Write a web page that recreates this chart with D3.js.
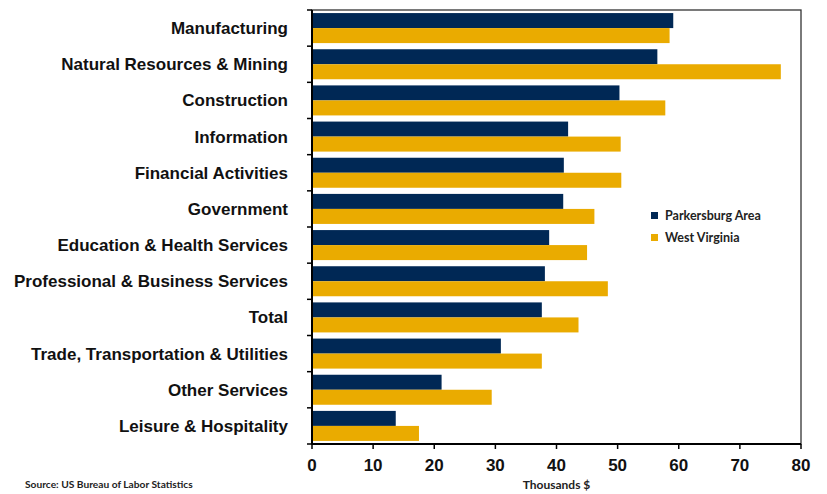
<!DOCTYPE html>
<html>
<head>
<meta charset="utf-8">
<script src="https://cdn.jsdelivr.net/npm/d3@7"></script>
<style>
  body { margin: 0; background: #fff; }
  svg { display: block; }
</style>
</head>
<body>
<div id="chartArea"></div>
<script>
// categories, top to bottom
const industries = [
  'Manufacturing',
  'Natural Resources & Mining',
  'Construction',
  'Information',
  'Financial Activities',
  'Government',
  'Education & Health Services',
  'Professional & Business Services',
  'Total',
  'Trade, Transportation & Utilities',
  'Other Services',
  'Leisure & Hospitality'
]
// average annual wage, thousands $
const parkersburg = [59.1, 56.5, 50.3, 41.9, 41.2, 41.1, 38.8, 38.1, 37.6, 30.9, 21.2, 13.7]
const westVirginia = [58.5, 76.7, 57.8, 50.5, 50.6, 46.2, 45.0, 48.4, 43.6, 37.6, 29.4, 17.5]
const seriesNames = ['Parkersburg Area', 'West Virginia']
const xTickValues = [0, 10, 20, 30, 40, 50, 60, 70, 80]

const colors = ['#002855', '#EAAB00']
const width = 827
const height = 494
const margin = { top: 10, right: 26, bottom: 50, left: 312 }
const innerWidth = width - margin.left - margin.right
const innerHeight = height - margin.top - margin.bottom

const data = industries.map((name, i) => ({ name, values: [parkersburg[i], westVirginia[i]] }))

const svg = d3.select('#chartArea')
  .append('svg')
  .attr('width', width)
  .attr('height', height)

const plotG = svg.append('g')
  .attr('transform', `translate(${margin.left},${margin.top})`)

const xScale = d3.scaleLinear().domain([0, 80]).range([0, innerWidth])

const yScale = d3.scaleBand()
  .domain(industries)
  .range([0, innerHeight])
  .paddingInner(0.17)
  .paddingOuter(0.085)

const subScale = d3.scaleBand()
  .domain([0, 1])
  .range([0, yScale.bandwidth()])

// bars
const rowG = plotG.selectAll('g.row')
  .data(data)
  .join('g')
  .attr('class', 'row')
  .attr('transform', d => `translate(0,${yScale(d.name)})`)

rowG.selectAll('rect')
  .data(d => d.values)
  .join('rect')
  .attr('x', 0)
  .attr('y', (_, i) => subScale(i))
  .attr('width', d => xScale(d))
  .attr('height', subScale.bandwidth())
  .attr('fill', (_, i) => colors[i])

// frame
plotG.append('rect')
  .attr('width', innerWidth)
  .attr('height', innerHeight)
  .attr('fill', 'none')
  .attr('stroke', '#333')
  .attr('stroke-width', 1.3)

// y axis with ticks at category boundaries
const step = innerHeight / industries.length
const yBounds = d3.range(industries.length + 1).map(i => i * step)
plotG.append('line')
  .attr('y2', innerHeight)
  .attr('stroke', '#000')
  .attr('stroke-width', 2)
plotG.selectAll('line.ytick')
  .data(yBounds)
  .join('line')
  .attr('class', 'ytick')
  .attr('x1', -5)
  .attr('x2', 0)
  .attr('y1', d => d)
  .attr('y2', d => d)
  .attr('stroke', '#000')
  .attr('stroke-width', 1.5)

plotG.selectAll('text.ylabel')
  .data(industries)
  .join('text')
  .attr('class', 'ylabel')
  .attr('x', -24)
  .attr('y', d => yScale(d) + yScale.bandwidth() / 2)
  .attr('dy', '0.35em')
  .attr('text-anchor', 'end')
  .attr('font-family', 'Liberation Sans, Arial, sans-serif')
  .attr('font-weight', 'bold')
  .attr('font-size', '17px')
  .attr('fill', '#111')
  .text(d => d)

// x axis
const xAxisG = plotG.append('g')
  .attr('transform', `translate(0,${innerHeight})`)
xAxisG.append('line')
  .attr('x2', innerWidth)
  .attr('stroke', '#000')
  .attr('stroke-width', 2)
xAxisG.selectAll('line.xtick')
  .data(xTickValues)
  .join('line')
  .attr('class', 'xtick')
  .attr('x1', d => xScale(d))
  .attr('x2', d => xScale(d))
  .attr('y2', 5)
  .attr('stroke', '#000')
  .attr('stroke-width', 1.5)
xAxisG.selectAll('text')
  .data(xTickValues)
  .join('text')
  .attr('x', d => xScale(d))
  .attr('y', 21)
  .attr('dy', '0.35em')
  .attr('text-anchor', 'middle')
  .attr('font-family', 'Liberation Sans, Arial, sans-serif')
  .attr('font-weight', 'bold')
  .attr('font-size', '17px')
  .attr('fill', '#111')
  .text(d => d)

// x axis title
svg.append('text')
  .attr('x', margin.left + innerWidth / 2)
  .attr('y', 489)
  .attr('text-anchor', 'middle')
  .attr('font-family', 'Lato, sans-serif')
  .attr('font-weight', 'bold')
  .attr('font-size', '12px')
  .attr('fill', '#222')
  .text('Thousands $')

// source
svg.append('text')
  .attr('x', 25)
  .attr('y', 488)
  .attr('font-family', 'Lato, sans-serif')
  .attr('font-weight', 'bold')
  .attr('font-size', '10.2px')
  .attr('fill', '#222')
  .text('Source: US Bureau of Labor Statistics')

// legend
const legendG = svg.append('g')
  .attr('transform', 'translate(651,212)')
const legendItem = legendG.selectAll('g')
  .data(seriesNames)
  .join('g')
  .attr('transform', (_, i) => `translate(0,${i * 22})`)
legendItem.append('rect')
  .attr('width', 7)
  .attr('height', 7)
  .attr('fill', (_, i) => colors[i])
legendItem.append('text')
  .attr('x', 14)
  .attr('y', 3.5)
  .attr('dy', '0.35em')
  .attr('font-family', 'Lato, sans-serif')
  .attr('font-weight', 'bold')
  .attr('font-size', '12.5px')
  .attr('fill', '#222')
  .text(d => d)
</script>
</body>
</html>
